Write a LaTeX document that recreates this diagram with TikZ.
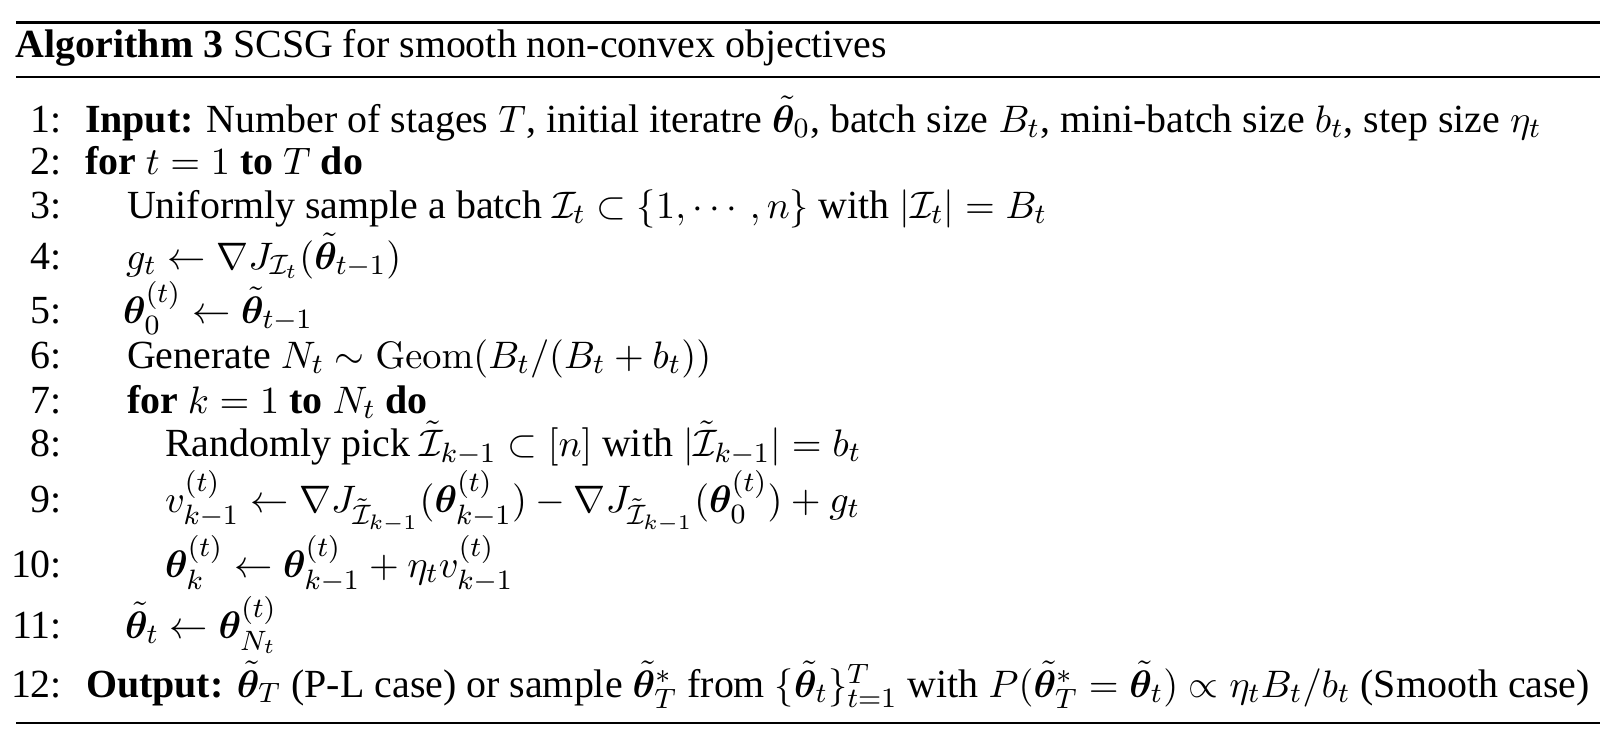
\documentclass[tikz,border=0pt]{standalone}
\usepackage{amsmath,amssymb}
\usepackage{bm}
\usepackage[no-math]{fontspec}
\setmainfont{Liberation Serif}
\newcommand{\bth}{\bm{\theta}}
\newcommand{\tbth}{\tilde{\bm{\theta}}}
\begin{document}
\begin{tikzpicture}[x=0.2857pt,y=-0.2857pt,
  every node/.style={inner sep=0pt,outer sep=0pt,font=\fontsize{11.4}{13.5}\selectfont},
  lnum/.style={anchor=base east},
  ltext/.style={anchor=base west},
  thickrule/.style={line width=0.8pt},
  thinrule/.style={line width=0.4pt}]
\useasboundingbox[fill=white] (0,0) rectangle (1621,746);
% rules
\coordinate (tl) at (16,22.5); \coordinate (tr) at (1600,22.5);
\coordinate (ml) at (16,77); \coordinate (mr) at (1600,77);
\coordinate (bl) at (16,723); \coordinate (br) at (1600,723);
\draw[thickrule] (tl) -- (tr);
\draw[thinrule] (ml) -- (mr);
\draw[thinrule] (bl) -- (br);
% caption
\node[ltext] (cap) at (16,58) {\textbf{Algorithm 3} SCSG for smooth non-convex objectives};
% line numbers
\node[lnum] (n1) at (62,132) {1:};
\node[lnum] (n2) at (62,174) {2:};
\node[lnum] (n3) at (62,218) {3:};
\node[lnum] (n4) at (62,269) {4:};
\node[lnum] (n5) at (62,323) {5:};
\node[lnum] (n6) at (62,368) {6:};
\node[lnum] (n7) at (62,413) {7:};
\node[lnum] (n8) at (62,456) {8:};
\node[lnum] (n9) at (62,512) {9:};
\node[lnum] (n10) at (62,577) {10:};
\node[lnum] (n11) at (62,638) {11:};
\node[lnum] (n12) at (62,697) {12:};
% lines
\node[ltext] (l1) at (85,132) {\textbf{Input:} Number of stages $T$, initial iteratre $\tbth_0$, batch size $B_t$, mini-batch size $b_t$, step size $\eta_t$};
\node[ltext] (l2) at (85,174) {\textbf{for} $t=1$ \textbf{to} $T$ \textbf{do}};
\node[ltext] (l3) at (127,218) {Uniformly sample a batch $\mathcal{I}_t\subset\{1,\cdots,n\}$ with $|\mathcal{I}_t|=B_t$};
\node[ltext] (l4) at (126,269) {$g_t\leftarrow\nabla J_{\mathcal{I}_t}(\tbth_{t-1})$};
\node[ltext] (l5) at (123,323) {$\bth^{(t)}_0\leftarrow\tbth_{t-1}$};
\node[ltext] (l6) at (127,368) {Generate $N_t\sim\mathrm{Geom}(B_t/(B_t+b_t))$};
\node[ltext] (l7) at (127,413) {\textbf{for} $k=1$ \textbf{to} $N_t$ \textbf{do}};
\node[ltext] (l8) at (165,456) {Randomly pick $\tilde{\mathcal{I}}_{k-1}\subset[n]$ with $|\tilde{\mathcal{I}}_{k-1}|=b_t$};
\node[ltext] (l9) at (165,512) {$v^{(t)}_{k-1}\leftarrow\nabla J_{\tilde{\mathcal{I}}_{k-1}}(\bth^{(t)}_{k-1})-\nabla J_{\tilde{\mathcal{I}}_{k-1}}(\bth^{(t)}_{0})+g_t$};
\node[ltext] (l10) at (165,577) {$\bth^{(t)}_k\leftarrow\bth^{(t)}_{k-1}+\eta_t v^{(t)}_{k-1}$};
\node[ltext] (l11) at (125,638) {$\tbth_t\leftarrow\bth^{(t)}_{N_t}$};
\node[ltext] (l12) at (86,697) {\textbf{Output:} $\tbth_T$ (P-L case) or sample $\tbth^*_T$ from $\{\tbth_t\}_{t=1}^T$ with $P(\tbth^*_T=\tbth_t)\propto\eta_t B_t/b_t$ (Smooth case)};
\end{tikzpicture}
\end{document}
